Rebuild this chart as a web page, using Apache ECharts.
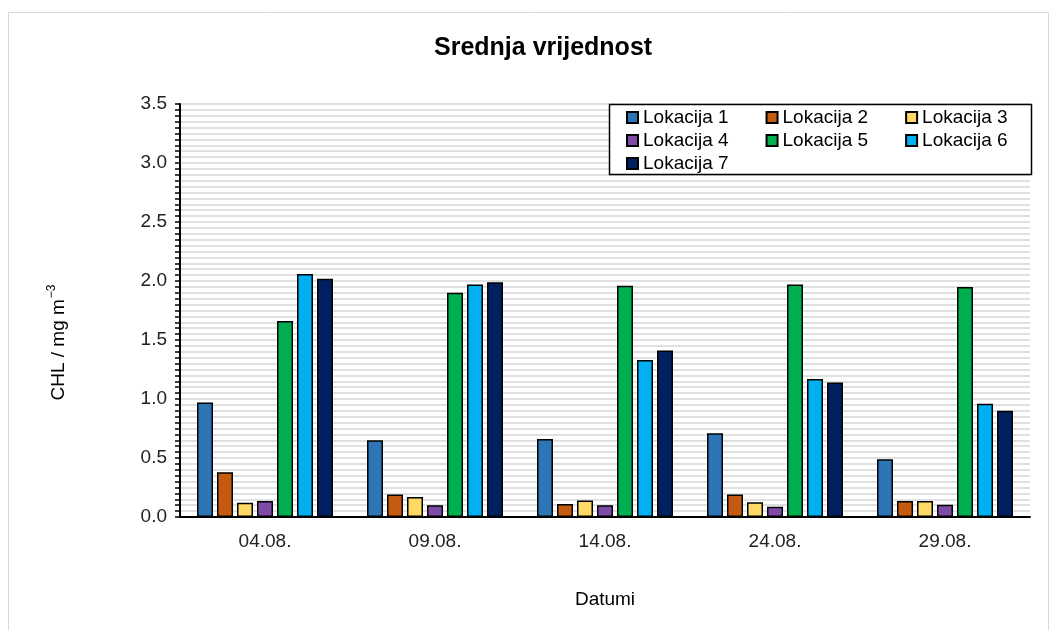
<!DOCTYPE html>
<html>
<head>
<meta charset="utf-8">
<script src="https://cdn.jsdelivr.net/npm/echarts@6/dist/echarts.min.js"></script>
<style>html,body{margin:0;padding:0;background:#fff}#c{width:1050px;height:630px}</style>
</head>
<body>
<div id="c"></div>
<script>
const categories = ['04.08.', '09.08.', '14.08.', '24.08.', '29.08.'];
const seriesNames = ['Lokacija 1', 'Lokacija 2', 'Lokacija 3', 'Lokacija 4', 'Lokacija 5', 'Lokacija 6', 'Lokacija 7'];
const lokacija1 = [0.97, 0.65, 0.66, 0.71, 0.49];
const lokacija2 = [0.38, 0.19, 0.11, 0.19, 0.135];
const lokacija3 = [0.12, 0.17, 0.14, 0.125, 0.135];
const lokacija4 = [0.135, 0.10, 0.10, 0.087, 0.104];
const lokacija5 = [1.66, 1.90, 1.96, 1.97, 1.95];
const lokacija6 = [2.06, 1.97, 1.33, 1.17, 0.96];
const lokacija7 = [2.02, 1.99, 1.41, 1.14, 0.90];
const yTicks = [0, 0.5, 1.0, 1.5, 2.0, 2.5, 3.0, 3.5];
const colors = ['#2E75B6', '#C55A11', '#FFD966', '#7F4BA6', '#00B050', '#00B0F0', '#002060'];

const allData = [lokacija1, lokacija2, lokacija3, lokacija4, lokacija5, lokacija6, lokacija7];
const FONT = "'Liberation Sans', Arial, sans-serif";

const chart = echarts.init(document.getElementById('c'), null, {renderer: 'canvas'});

const legendCommon = {
  left: 626, itemWidth: 11, itemHeight: 11, icon: 'rect', itemGap: 37, z: 10,
  padding: 0,
  textStyle: {fontFamily: FONT, fontSize: 19, color: '#000'},
  selectedMode: false
};

chart.setOption({
  animation: false,
  color: colors,
  textStyle: {fontFamily: FONT},
  title: {
    text: 'Srednja vrijednost', left: 429, top: 31,
    textStyle: {fontFamily: FONT, fontSize: 25, fontWeight: 'bold', color: '#000'}
  },
  graphic: [
    {type: 'rect', z: -10, shape: {x: 8.5, y: 12.5, width: 1040, height: 630},
     style: {fill: 'none', stroke: '#D9D9D9', lineWidth: 1}},
    {type: 'rect', z: 9, shape: {x: 609.5, y: 104.5, width: 422, height: 70},
     style: {fill: '#fff', stroke: '#000', lineWidth: 1.5}}
  ],
  legend: [
    Object.assign({}, legendCommon, {top: 108, data: seriesNames.slice(0, 3)}),
    Object.assign({}, legendCommon, {top: 131, data: seriesNames.slice(3, 6)}),
    Object.assign({}, legendCommon, {top: 154, data: seriesNames.slice(6, 7)})
  ],
  grid: {left: 180, right: 20, top: 104, bottom: 113, containLabel: false},
  xAxis: {
    type: 'category', data: categories,
    name: 'Datumi', nameLocation: 'middle', nameGap: 73,
    nameTextStyle: {fontFamily: FONT, fontSize: 19, color: '#000'},
    axisLine: {show: true, lineStyle: {color: '#000', width: 2}},
    axisTick: {show: false},
    axisLabel: {fontFamily: FONT, fontSize: 19, color: '#222', margin: 15},
    splitLine: {show: false}
  },
  yAxis: {
    type: 'value', min: 0, max: 3.5, interval: 0.5,
    name: '{a|CHL / mg m}{b|−3}', nameLocation: 'middle', nameGap: 112, nameRotate: 90,
    nameTextStyle: {
      fontFamily: FONT, fontSize: 19, color: '#000', padding: [0, 64, 0, 0],
      rich: {
        a: {fontFamily: FONT, fontSize: 19, color: '#000', verticalAlign: 'bottom', lineHeight: 22},
        b: {fontFamily: FONT, fontSize: 12, color: '#000', verticalAlign: 'top', lineHeight: 22, padding: [0, 0, 9, 1]}
      }
    },
    axisLine: {show: true, lineStyle: {color: '#000', width: 2}},
    axisTick: {show: true, length: 5, inside: false, lineStyle: {color: '#000', width: 1.5}},
    minorTick: {show: true, splitNumber: 10, length: 5, lineStyle: {color: '#000', width: 1.5}},
    axisLabel: {
      fontFamily: FONT, fontSize: 19, color: '#222', margin: 13,
      formatter: v => yTicks.includes(+v.toFixed(2)) ? v.toFixed(1) : ''
    },
    splitLine: {show: true, lineStyle: {color: '#E0E0E0', width: 2}},
    minorSplitLine: {show: true, lineStyle: {color: '#E0E0E0', width: 2}}
  },
  series: seriesNames.map((n, i) => ({
    name: n, type: 'bar', data: allData[i],
    barWidth: 16, barGap: '25%',
    itemStyle: {color: colors[i], borderColor: '#000', borderWidth: 1.5}
  }))
});
</script>
</body>
</html>
